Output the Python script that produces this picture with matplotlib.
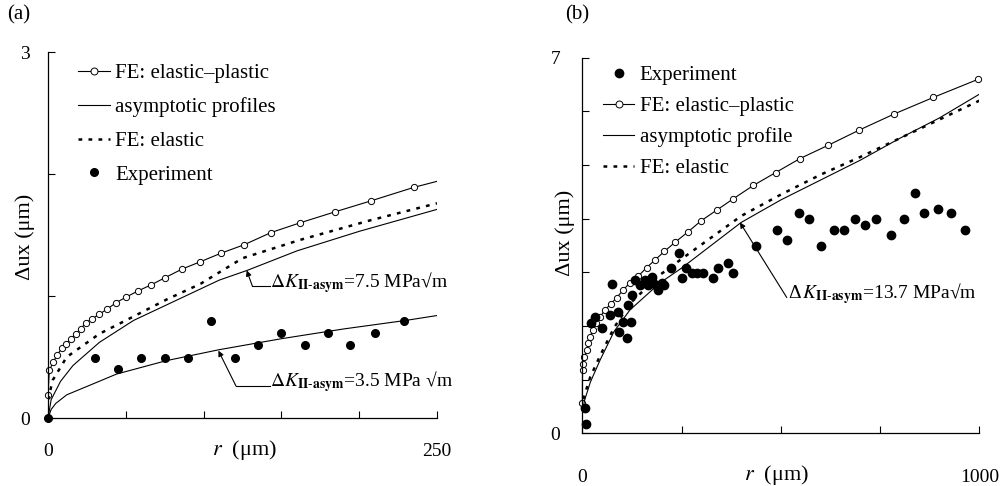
import numpy as np
import matplotlib
matplotlib.use("Agg")
import matplotlib.pyplot as plt
import matplotlib.lines as mlines

plt.rcParams['font.family'] = ['Liberation Serif', 'DejaVu Serif']
plt.rcParams['mathtext.fontset'] = 'stix'

# ---- panel (a) data ----
rPlasticA = [0, 0.8, 3.4, 6, 8.8, 11.6, 14.6, 17.8, 21, 24.2, 28, 32.8, 37.7, 43.7, 50, 57.6,
             66, 75.2, 86, 97.7, 111, 126, 143.3, 162, 184.5, 207.6, 235]
uPlasticA = [0.19, 0.39, 0.46, 0.52, 0.57, 0.61, 0.65, 0.69, 0.73, 0.78, 0.81, 0.85, 0.89, 0.945,
             0.99, 1.04, 1.09, 1.15, 1.22, 1.28, 1.35, 1.42, 1.52, 1.60, 1.69, 1.78, 1.89]
rPlasticLineEndA = 250
uPlasticLineEndA = 1.94

rElasticA = [0, 3, 12, 33, 50, 76, 98, 125, 162, 207, 250]
uElasticA = [0.15, 0.31, 0.50, 0.69, 0.80, 0.97, 1.10, 1.31, 1.46, 1.62, 1.76]

rAsym75 = [0, 2, 8, 16, 33, 55, 80, 110, 128, 160, 200, 250]
uAsym75 = [0.0, 0.15, 0.30, 0.43, 0.62, 0.80, 0.95, 1.13, 1.21, 1.37, 1.53, 1.71]

rAsym35 = [0, 2, 5, 12, 29, 44, 76, 110, 150, 190, 230, 250]
uAsym35 = [0, 0.07, 0.12, 0.19, 0.28, 0.36, 0.47, 0.56, 0.65, 0.73, 0.80, 0.84]

rExpA = [0, 30, 45, 60, 75, 90, 105, 120, 135, 150, 165, 180, 194, 210, 229]
uExpA = [0, 0.49, 0.40, 0.49, 0.49, 0.49, 0.795, 0.49, 0.60, 0.70, 0.60, 0.70, 0.60, 0.70, 0.795]

# ---- panel (b) data ----
rPlasticB = [0, 0.5, 2.5, 5, 11, 15, 19.4, 26, 34.5, 44.6, 57, 71.5, 86.6, 103, 120, 141, 162,
             183, 206.5, 233.5, 265.5, 299, 338.5, 380, 430.7, 487, 548, 619.6, 697, 785, 884, 997.5]
uPlasticB = [0.56, 1.18, 1.30, 1.43, 1.55, 1.68, 1.80, 1.92, 2.05, 2.17, 2.30, 2.41, 2.53, 2.67,
             2.81, 2.93, 3.09, 3.23, 3.39, 3.56, 3.75, 3.96, 4.16, 4.37, 4.62, 4.86, 5.12, 5.37,
             5.65, 5.95, 6.26, 6.60]

rAsymB = [0, 5, 20, 45, 80, 120, 195, 250, 400, 500, 600, 700, 800, 900, 1000]
uAsymB = [0.35, 0.60, 0.95, 1.37, 1.90, 2.30, 2.80, 3.08, 3.93, 4.35, 4.72, 5.09, 5.50, 5.88, 6.32]

rElasticB = [0, 5, 20, 45, 80, 120, 195, 250, 400, 500, 600, 700, 800, 900, 1000]
uElasticB = [0.45, 0.70, 1.05, 1.45, 1.97, 2.42, 2.95, 3.25, 4.05, 4.45, 4.82, 5.15, 5.50, 5.85, 6.20]

rExpB = [9.3, 7, 22, 32, 50, 75.6, 69.8, 89, 92.4, 103, 111.8, 114.3, 121.8, 126, 132.7, 145,
         158, 166, 174.8, 177.3, 185.6, 191.4, 200, 205.8, 222.7, 243.6, 251.9, 261, 277, 289.7,
         303, 328.4, 341, 366, 380, 437.5, 489.5, 514.7, 546.6, 571, 601, 634.7, 660, 686.9,
         712, 739.8, 776.8, 811, 838, 861.5, 895, 928.7, 963.8]
uExpB = [0.17, 0.47, 2.06, 2.17, 1.96, 2.78, 2.20, 2.27, 1.88, 2.07, 1.78, 2.39, 2.07, 2.58, 2.86,
         2.76, 2.86, 2.76, 2.92, 2.81, 2.76, 2.67, 2.80, 2.76, 3.09, 3.37, 2.89, 3.09, 2.98, 2.98,
         2.98, 2.89, 3.09, 3.18, 2.98, 3.49, 3.79, 3.60, 4.10, 3.99, 3.49, 3.79, 3.79, 3.99, 3.88,
         3.99, 3.70, 3.99, 4.48, 4.10, 4.19, 4.10, 3.79]

fs = 14
legFs = 15
labFs = 16
sqrtSign = '\u221a'

fig = plt.figure(figsize=(10.03, 4.86), dpi=100)
axA = fig.add_axes([0.0479, 0.1399, 0.3878, 0.7531])
axB = fig.add_axes([0.5806, 0.1084, 0.3958, 0.7728])

def styleAxis(ax, xmax, ymax, xstep, xpad, ypad):
    for s in ['top', 'right']:
        ax.spines[s].set_visible(False)
    ax.set_xlim(0, xmax)
    ax.set_ylim(0, ymax)
    xt = np.arange(0, xmax + 1, xstep)
    ax.set_xticks(xt)
    ax.set_xticklabels(['0'] + [''] * (len(xt) - 2) + [str(xmax)])
    yt = np.arange(0, ymax + 1, 1)
    ax.set_yticks(yt)
    ax.set_yticklabels(['0'] + [''] * (len(yt) - 2) + [str(ymax)])
    ax.tick_params(axis='x', direction='in', length=5, width=0.8, pad=xpad, labelsize=fs)
    ax.tick_params(axis='y', direction='in', length=5, width=0.8, pad=ypad, labelsize=fs)
    ax.spines['left'].set_linewidth(0.9)
    ax.spines['bottom'].set_linewidth(0.9)

epHandle = mlines.Line2D([], [], color='black', lw=0.8, marker='o', mfc='white', mec='black', ms=5, mew=0.7)

# ---- panel (a) ----
axA.plot(rPlasticA + [rPlasticLineEndA], uPlasticA + [uPlasticLineEndA], color='black', lw=0.8)
axA.plot(rPlasticA, uPlasticA, 'o', mfc='white', mec='black', ms=4.5, mew=0.7, clip_on=False)
asymLine, = axA.plot(rAsym75, uAsym75, color='black', lw=0.8)
axA.plot(rAsym35, uAsym35, color='black', lw=0.8)
elasticLine, = axA.plot(rElasticA, uElasticA, color='black', lw=1.8, ls=(0, (1.5, 2.5)))
expDots, = axA.plot(rExpA, uExpA, 'o', color='black', ms=5.5, ls='none', clip_on=False)

axA.legend([epHandle, asymLine, elasticLine, expDots],
           ['FE: elastic\u2013plastic', 'asymptotic profiles', 'FE: elastic', 'Experiment'],
           loc='upper left', bbox_to_anchor=(0.03, 1.02), frameon=False, fontsize=legFs,
           handlelength=1.5, handletextpad=0.25, labelspacing=0.68, numpoints=1)

styleAxis(axA, 250, 3, 50, 18, 13)

axA.plot([142.7, 131.3], [1.082, 1.082], color='black', lw=0.8)
axA.annotate('', xy=(127.7, 1.21), xytext=(131.3, 1.082),
             arrowprops=dict(arrowstyle='-|>', color='black', lw=0.8, mutation_scale=8,
                             shrinkA=0, shrinkB=0))
axA.text(142.7, 1.11, r'$\Delta K_{\mathbf{II\text{-}asym}}$=7.5 MPa' + sqrtSign + 'm',
         fontsize=fs, va='center', ha='left')
axA.plot([142.7, 120.8], [0.262, 0.262], color='black', lw=0.8)
axA.annotate('', xy=(109.5, 0.552), xytext=(120.8, 0.262),
             arrowprops=dict(arrowstyle='-|>', color='black', lw=0.8, mutation_scale=8,
                             shrinkA=0, shrinkB=0))
axA.text(142.7, 0.30, r'$\Delta K_{\mathbf{II\text{-}asym}}$=3.5 MPa ' + sqrtSign + 'm',
         fontsize=fs, va='center', ha='left')

axA.text(0.506, -0.087, r'$r$  (' + '\u03bcm)', transform=axA.transAxes, fontsize=labFs,
         ha='center', va='center')
axA.text(-0.059, 0.495, '\u0394ux (\u03bcm)', transform=axA.transAxes, fontsize=labFs,
         ha='center', va='center', rotation=90)

# ---- panel (b) ----
axB.plot(rPlasticB, uPlasticB, color='black', lw=0.8, marker='o', mfc='white', mec='black',
         ms=4.5, mew=0.7, clip_on=False)
asymLineB, = axB.plot(rAsymB, uAsymB, color='black', lw=0.8)
elasticLineB, = axB.plot(rElasticB, uElasticB, color='black', lw=1.8, ls=(0, (1.5, 2.5)))
expDotsB, = axB.plot(rExpB, uExpB, 'o', color='black', ms=6, ls='none', clip_on=False)
axB.legend([expDotsB, epHandle, asymLineB, elasticLineB],
           ['Experiment', 'FE: elastic\u2013plastic', 'asymptotic profile', 'FE: elastic'],
           loc='upper left', bbox_to_anchor=(0.005, 1.03), frameon=False, fontsize=legFs,
           handlelength=1.5, handletextpad=0.25, labelspacing=0.55, numpoints=1)

styleAxis(axB, 1000, 7, 250, 26, 16)

axB.annotate('', xy=(397, 3.93), xytext=(515, 2.53),
             arrowprops=dict(arrowstyle='-|>', color='black', lw=0.8, mutation_scale=8,
                             shrinkA=0, shrinkB=0))
axB.text(517, 2.6, '\u0394' + r'$\,K_{\mathbf{II\text{-}asym}}$=13.7 MPa' + sqrtSign + 'm',
         fontsize=fs, va='center', ha='left')

axB.text(0.49, -0.112, r'$r$  (' + '\u03bcm)', transform=axB.transAxes, fontsize=labFs,
         ha='center', va='center')
axB.text(-0.0436, 0.533, '\u0394ux (\u03bcm)', transform=axB.transAxes, fontsize=labFs,
         ha='center', va='center', rotation=90)

fig.text(0.019, 0.969, '(a)', fontsize=legFs, ha='center', va='center')
fig.text(0.575, 0.969, '(b)', fontsize=legFs, ha='center', va='center')

fig.savefig('out.png', dpi=100)
